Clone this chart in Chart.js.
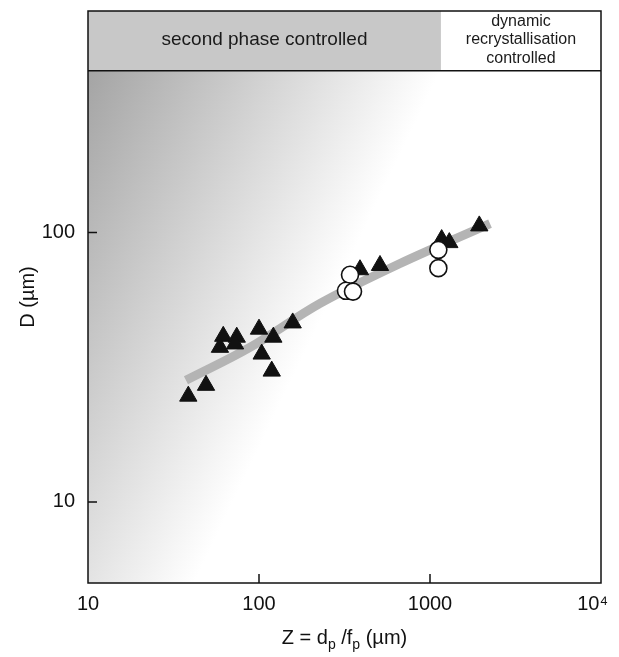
<!DOCTYPE html>
<html><head><meta charset="utf-8">
<script src="https://cdn.jsdelivr.net/npm/chart.js@4.4.1/dist/chart.umd.min.js"></script>
<style>html,body{margin:0;padding:0;background:#fff;}</style>
</head><body>
<canvas id="c" width="619" height="657"></canvas>
<script>
// ---- data ----
const xTicks = [10, 100, 1000, 10000];
const xTickLabels = ['10', '100', '1000', '10\u2074\u00a0\u00a0\u00a0'];
const yTicks = [10, 100];
const yTickLabels = ['10', '100'];
const triX = [38.6, 49.0, 61.8, 74.1, 59.1, 72.4, 100, 121.3, 157.4, 103.7, 118.7, 389.6, 510, 1170, 1297, 1942];
const triY = [24.7, 27.1, 41.2, 40.9, 37.5, 38.6, 43.8, 40.9, 46.2, 35.4, 30.6, 72.8, 75.5, 94.2, 91.8, 105.9];
const circX = [340.6, 322.6, 354.6, 1119, 1119];
const circY = [69.7, 60.8, 60.4, 86.3, 73.8];
const fitX = [37.4, 88.5, 227.6, 668, 2244];
const fitY = [28.3, 37.5, 54.6, 76.8, 108];
const leftRegionLabel = 'second phase controlled';
const rightRegionLabel = ['dynamic', 'recrystallisation', 'controlled'];
const headerBottomY = 399;   // D value at lower edge of the header band
const regimeSplitX = 1159;   // Z value where the regime changes
const shadeBottomX = 46.4;   // Z value where shaded field meets the x axis
const xMin = 10, xMax = 10000, yMin = 5, yMax = 665;

const FONT = "'Liberation Sans', Arial, sans-serif";
const toPts = (xs, ys) => xs.map((x, i) => ({x: x, y: ys[i]}));

const decor = {
  id: 'decor',
  beforeDatasetsDraw(chart) {
    const {ctx, chartArea: a, scales: {x, y}} = chart;
    const hb = y.getPixelForValue(headerBottomY);
    const sx = x.getPixelForValue(regimeSplitX);
    const bx = x.getPixelForValue(shadeBottomX);
    ctx.save();
    // shaded field
    const w = a.right - a.left, h = a.bottom - hb;
    const g = ctx.createLinearGradient(a.left, hb, a.left + w * 0.558, hb + h * 0.269);
    g.addColorStop(0, '#a4a4a4');
    g.addColorStop(1, '#ffffff');
    ctx.fillStyle = g;
    ctx.beginPath();
    ctx.moveTo(a.left, hb);
    ctx.lineTo(sx, hb);
    ctx.lineTo(bx, a.bottom);
    ctx.lineTo(a.left, a.bottom);
    ctx.closePath();
    ctx.fill();
    // header band
    ctx.fillStyle = '#c8c8c8';
    ctx.fillRect(a.left, a.top, sx - a.left, hb - a.top);
    ctx.fillStyle = '#ffffff';
    ctx.fillRect(sx, a.top, a.right - sx, hb - a.top);
    ctx.strokeStyle = '#111';
    ctx.lineWidth = 1.5;
    ctx.beginPath();
    ctx.moveTo(a.left, hb); ctx.lineTo(a.right, hb);
    ctx.stroke();
    ctx.fillStyle = '#1a1a1a';
    ctx.textAlign = 'center';
    ctx.textBaseline = 'middle';
    ctx.font = '19px ' + FONT;
    ctx.fillText(leftRegionLabel, (a.left + sx) / 2, (a.top + hb) / 2 - 1);
    ctx.font = '16px ' + FONT;
    const cx = (sx + a.right) / 2, cy = (a.top + hb) / 2 - 1;
    rightRegionLabel.forEach((t, i) => ctx.fillText(t, cx, cy + (i - 1) * 18.5));
    // inward ticks
    ctx.beginPath();
    xTicks.forEach(v => {
      const p = x.getPixelForValue(v);
      if (p > a.left + 1 && p < a.right - 1) { ctx.moveTo(p, a.bottom); ctx.lineTo(p, a.bottom - 9); }
    });
    yTicks.forEach(v => {
      const p = y.getPixelForValue(v);
      ctx.moveTo(a.left, p); ctx.lineTo(a.left + 9, p);
    });
    ctx.stroke();
    ctx.restore();
  },
  afterDatasetsDraw(chart) {
    const {ctx, chartArea: a} = chart;
    ctx.save();
    ctx.strokeStyle = '#111';
    ctx.lineWidth = 1.5;
    ctx.strokeRect(a.left, a.top, a.right - a.left, a.bottom - a.top);
    ctx.restore();
  },
  afterDraw(chart) {
    const {ctx, chartArea: a} = chart;
    const parts = [['Z = d', 0], ['p', 1], [' /f', 0], ['p', 1], [' (\u00b5m)', 0]];
    ctx.save();
    ctx.fillStyle = '#111';
    ctx.textBaseline = 'alphabetic';
    ctx.textAlign = 'left';
    const fm = '20px ' + FONT, fs = '14px ' + FONT;
    let total = 0;
    parts.forEach(([t, s]) => { ctx.font = s ? fs : fm; total += ctx.measureText(t).width; });
    let xx = (a.left + a.right) / 2 - total / 2;
    const base = 644;
    parts.forEach(([t, s]) => {
      ctx.font = s ? fs : fm;
      ctx.fillText(t, xx, s ? base + 5 : base);
      xx += ctx.measureText(t).width;
    });
    ctx.restore();
  }
};

new Chart(document.getElementById('c'), {
  type: 'scatter',
  data: {
    datasets: [
      {
        type: 'line', data: toPts(fitX, fitY), borderColor: '#b4b4b4', borderWidth: 9,
        pointRadius: 0, tension: 0.35, borderCapStyle: 'butt', order: 3, fill: false
      },
      {
        data: toPts(triX, triY), pointStyle: 'triangle', pointRadius: 10,
        backgroundColor: '#111', borderColor: '#111', borderWidth: 1, order: 2
      },
      {
        data: toPts(circX, circY), pointStyle: 'circle', pointRadius: 8.5,
        backgroundColor: '#fff', borderColor: '#111', borderWidth: 1.6, order: 1
      }
    ]
  },
  options: {
    responsive: false, animation: false, devicePixelRatio: 1,
    layout: {padding: {top: 10, right: 18, left: 0, bottom: 0}},
    plugins: {legend: {display: false}, tooltip: {enabled: false}},
    scales: {
      x: {
        type: 'logarithmic', min: xMin, max: xMax,
        afterBuildTicks: s => { s.ticks = xTicks.map(v => ({value: v})); },
        afterFit: s => { s.height = 74; s.paddingLeft = 0; s.paddingRight = 0; },
        grid: {display: false, drawTicks: false}, border: {display: false},
        ticks: {
          autoSkip: false, maxRotation: 0, padding: 9, color: '#111',
          font: {family: FONT, size: 20},
          callback: (v, i) => xTickLabels[i]
        }
      },
      y: {
        type: 'logarithmic', min: yMin, max: yMax,
        afterBuildTicks: s => { s.ticks = yTicks.map(v => ({value: v})); },
        afterFit: s => { s.width = 88; s.paddingTop = 0; s.paddingBottom = 0; },
        grid: {display: false, drawTicks: false}, border: {display: false},
        ticks: {
          autoSkip: false, padding: 13, color: '#111',
          font: {family: FONT, size: 20},
          callback: (v, i) => yTickLabels[i]
        },
        title: {
          display: true, text: 'D (\u00b5m)', color: '#111',
          font: {family: FONT, size: 20}, padding: {top: 16, bottom: 0}
        }
      }
    }
  },
  plugins: [decor]
});
</script>
</body></html>
